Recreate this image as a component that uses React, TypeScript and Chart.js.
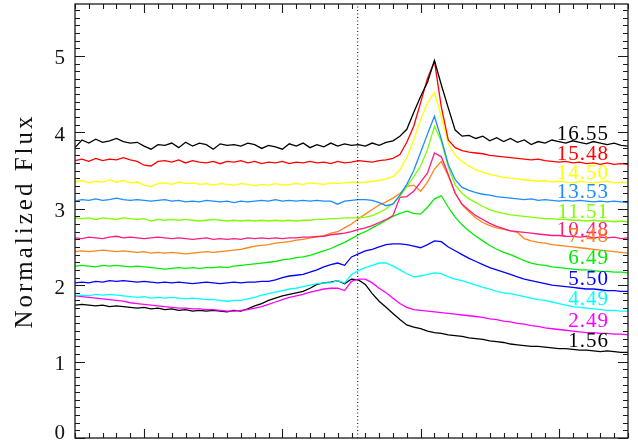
import React, { useEffect, useRef } from 'react';
import { Chart, registerables } from 'chart.js';

Chart.register(...registerables);

// x grid (arbitrary wavelength units, axis labels not shown in the reference)
const WAVE = [
  0, 0.5, 1, 1.5, 2, 2.5, 3, 3.5, 4, 4.5, 5, 5.5, 6, 6.5, 7, 7.5, 8, 8.5, 9, 9.5,
  10, 10.5, 11, 11.5, 12, 12.5, 13, 13.5, 14, 14.5, 15, 15.5, 16, 16.5, 17, 17.5, 18, 18.5, 19, 19.5,
  20, 20.5, 21, 21.5, 22, 22.5, 23, 23.5, 24, 24.5, 25, 25.5, 26, 26.5, 27, 27.5, 28, 28.5, 29, 29.5,
  30, 30.5, 31, 31.5, 32, 32.5, 33, 33.5, 34, 34.5, 35, 35.5, 36, 36.5, 37, 37.5, 38, 38.5, 39, 39.5,
  40,
];

const REST_WAVE = 20.45;

const EPOCHS = ['16.55', '15.48', '14.50', '13.53', '11.51', '10.48', '7.48', '6.49', '5.50', '4.49', '2.49', '1.56'];
const COLORS = ['#000000', '#ff0000', '#ffff00', '#1a8cff', '#80ff00', '#ff1a80', '#ff8419', '#00ee00', '#0000ff', '#00ffff', '#ff00ff', '#000000'];
// label anchor heights (flux units) at the right edge
const LABEL_Y = [3.97, 3.71, 3.46, 3.21, 2.95, 2.72, 2.64, 2.35, 2.07, 1.81, 1.52, 1.26];
const LABEL_X = 38.55;

const Y_TICKS = [0, 1, 2, 3, 4, 5];

const F_1655 = [
  3.80, 3.90, 3.86, 3.91, 3.87, 3.89, 3.92, 3.88, 3.86, 3.87,
  3.82, 3.78, 3.84, 3.83, 3.86, 3.80, 3.87, 3.82, 3.86, 3.84,
  3.78, 3.85, 3.83, 3.84, 3.82, 3.86, 3.84, 3.79, 3.83, 3.81,
  3.78, 3.85, 3.82, 3.86, 3.80, 3.84, 3.81, 3.86, 3.82, 3.85,
  3.83, 3.84, 3.82, 3.86, 3.83, 3.87, 3.89, 3.95, 4.04, 4.26,
  4.47, 4.66, 4.94, 4.62, 4.32, 4.03, 3.95, 3.96, 3.92, 3.95,
  3.89, 3.93, 3.88, 3.92, 3.87, 3.90, 3.84, 3.88, 3.86, 3.90,
  3.88, 3.86, 3.89, 3.87, 3.85, 3.88, 3.86, 3.84, 3.86, 3.83,
  3.82,
];
const F_1548 = [
  3.63, 3.65, 3.62, 3.66, 3.63, 3.65, 3.64, 3.67, 3.64, 3.62,
  3.57, 3.56, 3.62, 3.63, 3.61, 3.64, 3.60, 3.63, 3.61, 3.60,
  3.62, 3.59, 3.62, 3.61, 3.63, 3.60, 3.62, 3.59, 3.61, 3.60,
  3.62, 3.59, 3.61, 3.60, 3.62, 3.60, 3.61, 3.59, 3.62, 3.60,
  3.61, 3.63, 3.62, 3.61, 3.63, 3.64, 3.66, 3.71, 3.87, 4.08,
  4.39, 4.71, 4.93, 4.33, 3.90, 3.80, 3.76, 3.74, 3.73, 3.72,
  3.70, 3.69, 3.68, 3.67, 3.66, 3.65, 3.64, 3.65, 3.63, 3.62,
  3.61, 3.62, 3.60, 3.61, 3.59, 3.60, 3.58, 3.60, 3.58, 3.59,
  3.58,
];
const F_1450 = [
  3.35, 3.37, 3.34, 3.36, 3.35, 3.38, 3.35, 3.37, 3.34, 3.35,
  3.31, 3.29, 3.33, 3.34, 3.32, 3.35, 3.33, 3.34, 3.32, 3.33,
  3.31, 3.33, 3.32, 3.31, 3.33, 3.32, 3.30, 3.32, 3.31, 3.33,
  3.31, 3.32, 3.33, 3.32, 3.34, 3.33, 3.32, 3.34, 3.33, 3.34,
  3.35, 3.34, 3.35, 3.36, 3.37, 3.39, 3.42, 3.51, 3.67, 3.90,
  4.17, 4.39, 4.52, 4.20, 3.85, 3.70, 3.62, 3.56, 3.51, 3.48,
  3.45, 3.43, 3.41, 3.40, 3.39, 3.38, 3.37, 3.36, 3.37, 3.35,
  3.36, 3.35, 3.34, 3.36, 3.35, 3.34, 3.35, 3.36, 3.34, 3.35,
  3.34,
];
const F_1353 = [
  3.10, 3.12, 3.11, 3.13, 3.11, 3.12, 3.14, 3.12, 3.11, 3.12,
  3.11, 3.10, 3.11, 3.12, 3.10, 3.11, 3.09, 3.10, 3.09, 3.11,
  3.10, 3.09, 3.10, 3.08, 3.10, 3.09, 3.10, 3.11, 3.10, 3.12,
  3.10, 3.11, 3.10, 3.11, 3.10, 3.11, 3.10, 3.10, 3.06, 3.10,
  3.11, 3.12, 3.12, 3.11, 3.08, 3.04, 3.06, 3.18, 3.32, 3.50,
  3.74, 3.98, 4.21, 3.91, 3.58, 3.38, 3.28, 3.24, 3.21, 3.19,
  3.18, 3.16, 3.15, 3.14, 3.13, 3.12, 3.13, 3.11, 3.12, 3.11,
  3.10, 3.11, 3.10, 3.11, 3.10, 3.09, 3.10, 3.09, 3.10, 3.09,
  3.08,
];
const F_1151 = [
  2.88, 2.87, 2.88, 2.86, 2.88, 2.87, 2.86, 2.88, 2.87, 2.86,
  2.87, 2.84, 2.86, 2.85, 2.86, 2.85, 2.86, 2.85, 2.84, 2.85,
  2.86, 2.85, 2.84, 2.85, 2.84, 2.85, 2.84, 2.85, 2.84, 2.85,
  2.84, 2.85, 2.84, 2.85, 2.85, 2.86, 2.86, 2.87, 2.87, 2.88,
  2.88, 2.88, 2.89, 2.91, 2.95, 3.00, 3.07, 3.16, 3.29, 3.42,
  3.56, 3.78, 4.08, 3.88, 3.55, 3.31, 3.20, 3.13, 3.08, 3.03,
  2.99, 2.96, 2.94, 2.92, 2.91, 2.90, 2.89, 2.88, 2.87, 2.87,
  2.86, 2.86, 2.85, 2.85, 2.84, 2.85, 2.84, 2.84, 2.83, 2.84,
  2.83,
];
const F_1048 = [
  2.62, 2.61, 2.63, 2.62, 2.61, 2.63, 2.64, 2.62, 2.63, 2.62,
  2.61, 2.62, 2.63, 2.62, 2.61, 2.62, 2.61, 2.60, 2.61, 2.62,
  2.60, 2.61, 2.60, 2.61, 2.60, 2.62, 2.61, 2.62, 2.61, 2.62,
  2.61, 2.62, 2.62, 2.63, 2.63, 2.64, 2.64, 2.66, 2.67, 2.68,
  2.70, 2.73, 2.75, 2.78, 2.82, 2.86, 2.91, 3.15, 3.16, 3.23,
  3.35, 3.47, 3.73, 3.68, 3.45, 3.20, 3.06, 2.98, 2.91, 2.86,
  2.81, 2.77, 2.74, 2.71, 2.70, 2.69, 2.68, 2.67, 2.66, 2.65,
  2.65, 2.64, 2.64, 2.63, 2.64, 2.62, 2.63, 2.62, 2.63, 2.61,
  2.62,
];
const F_748 = [
  2.44, 2.45, 2.44, 2.45, 2.46, 2.45, 2.44, 2.45, 2.44, 2.43,
  2.44, 2.42, 2.43, 2.42, 2.43, 2.42, 2.41, 2.42, 2.43, 2.44,
  2.43, 2.44, 2.45, 2.46, 2.47, 2.49, 2.51, 2.52, 2.53, 2.55,
  2.56, 2.57, 2.59, 2.60, 2.62, 2.63, 2.65, 2.68, 2.70, 2.75,
  2.80, 2.87, 2.93, 2.99, 3.05, 3.09, 3.14, 3.20, 3.29, 3.31,
  3.23, 3.35, 3.52, 3.62, 3.43, 3.21, 3.05, 2.96, 2.88, 2.82,
  2.78, 2.75, 2.73, 2.71, 2.69, 2.61, 2.58, 2.56, 2.55, 2.53,
  2.52, 2.51, 2.50, 2.49, 2.48, 2.47, 2.46, 2.45, 2.44, 2.43,
  2.42,
];
const F_649 = [
  2.25, 2.26, 2.25, 2.24, 2.26, 2.25, 2.26, 2.25, 2.24, 2.25,
  2.24, 2.23, 2.22, 2.21, 2.22, 2.23, 2.22, 2.23, 2.22, 2.23,
  2.23, 2.24, 2.23, 2.25, 2.26, 2.27, 2.28, 2.29, 2.30, 2.31,
  2.33, 2.34, 2.36, 2.37, 2.39, 2.42, 2.45, 2.48, 2.52, 2.56,
  2.61, 2.66, 2.70, 2.75, 2.80, 2.85, 2.90, 2.94, 2.97, 2.94,
  2.93, 3.02, 3.13, 3.17, 3.02, 2.89, 2.79, 2.71, 2.64, 2.58,
  2.52, 2.47, 2.43, 2.40, 2.36, 2.32, 2.29, 2.27, 2.26, 2.24,
  2.23, 2.22, 2.21, 2.20, 2.20, 2.19, 2.18, 2.18, 2.17, 2.17,
  2.16,
];
const F_550 = [
  2.03, 2.04, 2.03, 2.05, 2.04, 2.06, 2.05, 2.06, 2.05, 2.04,
  2.05, 2.04, 2.03, 2.04, 2.03, 2.04, 2.03, 2.02, 2.03, 2.04,
  2.03, 2.02, 2.03, 2.04, 2.03, 2.04, 2.04, 2.05, 2.05, 2.07,
  2.10, 2.12, 2.13, 2.14, 2.17, 2.20, 2.24, 2.27, 2.29, 2.26,
  2.37, 2.41, 2.45, 2.47, 2.50, 2.53, 2.54, 2.54, 2.53, 2.51,
  2.49, 2.53, 2.58, 2.57, 2.50, 2.45, 2.40, 2.35, 2.31, 2.27,
  2.23, 2.20, 2.17, 2.14, 2.11, 2.08, 2.06, 2.04, 2.02, 2.00,
  1.99, 1.98, 1.97, 1.96, 1.95, 1.95, 1.94, 1.93, 1.93, 1.92,
  1.92,
];
const F_449 = [
  1.86, 1.87, 1.86, 1.88, 1.87, 1.88, 1.87, 1.86, 1.85, 1.84,
  1.85, 1.83, 1.84, 1.83, 1.84, 1.83, 1.82, 1.83, 1.82, 1.81,
  1.81, 1.80, 1.79, 1.80, 1.80, 1.82, 1.84, 1.87, 1.89, 1.91,
  1.93, 1.95, 1.96, 1.98, 2.00, 2.02, 2.03, 2.03, 2.06, 2.03,
  2.14, 2.19, 2.23, 2.26, 2.29, 2.29, 2.25, 2.20, 2.15, 2.11,
  2.12, 2.14, 2.16, 2.15, 2.11, 2.08, 2.06, 2.03, 2.00, 1.97,
  1.95, 1.92, 1.90, 1.89, 1.87, 1.85, 1.83, 1.81, 1.80, 1.78,
  1.76, 1.74, 1.72, 1.71, 1.70, 1.69, 1.68, 1.67, 1.67, 1.66,
  1.66,
];
const F_249 = [
  1.86, 1.85, 1.84, 1.83, 1.82, 1.81, 1.80, 1.79, 1.77, 1.76,
  1.75, 1.74, 1.73, 1.72, 1.71, 1.70, 1.70, 1.69, 1.69, 1.68,
  1.68, 1.67, 1.66, 1.66, 1.67, 1.68, 1.70, 1.72, 1.75, 1.78,
  1.81, 1.84, 1.86, 1.88, 1.91, 1.93, 1.95, 1.96, 1.96, 1.93,
  2.05, 2.08, 2.08, 2.03, 1.96, 1.90, 1.83, 1.76, 1.71, 1.68,
  1.67, 1.66, 1.65, 1.64, 1.63, 1.62, 1.61, 1.60, 1.59, 1.58,
  1.56, 1.55, 1.53, 1.52, 1.50, 1.49, 1.47, 1.46, 1.44, 1.43,
  1.42, 1.41, 1.40, 1.39, 1.38, 1.38, 1.37, 1.37, 1.36, 1.36,
  1.35,
];
const F_156 = [
  1.74, 1.75, 1.74, 1.73, 1.74, 1.72, 1.73, 1.72, 1.71, 1.70,
  1.71, 1.69, 1.70, 1.68, 1.69, 1.67, 1.68, 1.66, 1.67, 1.66,
  1.67, 1.66, 1.65, 1.67, 1.66, 1.69, 1.73, 1.76, 1.80, 1.83,
  1.86, 1.88, 1.90, 1.92, 1.96, 2.01, 2.03, 2.04, 2.06, 2.02,
  2.08, 2.07, 2.01, 1.89, 1.79, 1.71, 1.63, 1.55, 1.48, 1.45,
  1.43, 1.40, 1.38, 1.37, 1.35, 1.34, 1.33, 1.31, 1.30, 1.29,
  1.27, 1.26, 1.25, 1.23, 1.22, 1.21, 1.20, 1.20, 1.19, 1.18,
  1.17, 1.17, 1.16, 1.15, 1.15, 1.14, 1.13, 1.14, 1.13, 1.12,
  1.12,
];

const SERIES = [F_1655, F_1548, F_1450, F_1353, F_1151, F_1048, F_748, F_649, F_550, F_449, F_249, F_156];

const SERIF = '"Liberation Serif", "Times New Roman", serif';

const idlAxes = {
  id: 'idlAxes',
  afterDatasetsDraw(chart: any) {
    const { ctx, chartArea, scales } = chart;
    const { left, right, top, bottom } = chartArea;
    const xs = scales.x;
    const ys = scales.y;
    ctx.save();
    ctx.strokeStyle = '#1a1a1a';
    ctx.lineWidth = 1.3;
    ctx.strokeRect(left, top, right - left, bottom - top);
    ctx.lineWidth = 1.1;
    ctx.beginPath();
    for (let v = 0; v <= 40; v += 1) {
      const px = Math.round(xs.getPixelForValue(v)) + 0.5;
      const len = v % 10 === 5 ? 9 : 5;
      ctx.moveTo(px, bottom);
      ctx.lineTo(px, bottom - len);
      ctx.moveTo(px, top);
      ctx.lineTo(px, top + len);
    }
    for (let k = 0; k <= 57; k++) {
      const py = Math.round(ys.getPixelForValue(k / 10)) + 0.5;
      if (py < top) continue;
      const len = k % 10 === 0 ? 10 : 5;
      ctx.moveTo(left, py);
      ctx.lineTo(left + len, py);
      ctx.moveTo(right, py);
      ctx.lineTo(right - len, py);
    }
    ctx.stroke();

    ctx.fillStyle = '#111';
    ctx.font = `21px ${SERIF}`;
    (ctx as any).letterSpacing = '1px';
    ctx.textAlign = 'right';
    ctx.textBaseline = 'middle';
    for (const v of Y_TICKS) {
      let py = ys.getPixelForValue(v) + 3;
      if (py > bottom - 5) py = bottom - 5;
      ctx.fillText(String(v), left - 9, py);
    }

    for (let i = 0; i < EPOCHS.length; i++) {
      ctx.fillStyle = COLORS[i];
      ctx.fillText(EPOCHS[i], xs.getPixelForValue(LABEL_X) + 1, ys.getPixelForValue(LABEL_Y[i]));
    }

    ctx.save();
    ctx.fillStyle = '#111';
    ctx.translate(32, (top + bottom) / 2);
    ctx.rotate(-Math.PI / 2);
    ctx.textAlign = 'center';
    ctx.textBaseline = 'alphabetic';
    ctx.font = `25px ${SERIF}`;
    (ctx as any).letterSpacing = '3px';
    ctx.fillText('Normalized Flux', 0, 0);
    ctx.restore();
    ctx.restore();
  },
};

export default function App() {
  const ref = useRef<HTMLCanvasElement | null>(null);
  useEffect(() => {
    if (!ref.current) return;
    const datasets: any[] = [
      {
        data: [
          { x: REST_WAVE, y: 0 },
          { x: REST_WAVE, y: 5.68 },
        ],
        borderColor: '#000',
        borderWidth: 1,
        borderDash: [1, 2.5],
      },
    ];
    SERIES.forEach((s, i) => {
      datasets.push({
        label: EPOCHS[i],
        data: WAVE.map((w, j) => ({ x: w, y: s[j] })),
        borderColor: COLORS[i],
        borderWidth: 1.3,
      });
    });
    const chart = new Chart(ref.current, {
      type: 'line',
      data: { datasets },
      options: {
        animation: false,
        responsive: false,
        layout: { padding: { left: 75, top: 4, right: 10, bottom: 2 } },
        elements: { point: { radius: 0 }, line: { tension: 0 } },
        plugins: { legend: { display: false }, tooltip: { enabled: false } },
        scales: {
          x: { type: 'linear', min: 0, max: 40, display: false },
          y: { type: 'linear', min: 0, max: 5.68, display: false },
        },
      },
      plugins: [idlAxes],
    });
    return () => chart.destroy();
  }, []);
  return (
    <div style={{ position: 'fixed', left: 0, top: 0, width: 638, height: 440, background: '#fff' }}>
      <canvas ref={ref} width={638} height={440} style={{ display: 'block' }} />
    </div>
  );
}
